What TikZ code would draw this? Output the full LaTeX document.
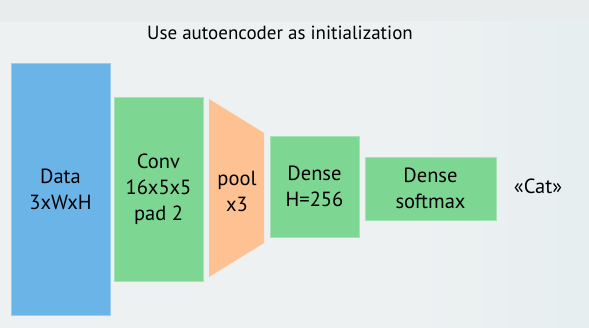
\documentclass[tikz,border=0pt]{standalone}
\usepackage{fontspec}
\setmainfont{PT Sans}
\definecolor{bgcol}{HTML}{EEF1F2}
\definecolor{bandcol}{HTML}{E8ECED}
\definecolor{sidecol}{HTML}{E6EEF0}
\definecolor{datablue}{HTML}{6AB4E8}
\definecolor{layergreen}{HTML}{7DD691}
\definecolor{poolorange}{HTML}{FDC192}
\definecolor{edgeblue}{HTML}{9CCDF0}
\definecolor{edgegreen}{HTML}{A6E3B4}
\tikzset{
  layer/.style={draw=edgegreen, line width=0.6pt, fill=layergreen, inner sep=0pt, align=center,
    font=\fontsize{20.5}{26}\selectfont},
  datablock/.style={layer, draw=edgeblue, fill=datablue},
  label/.style={inner sep=0pt, align=center, font=\fontsize{20.5}{26}\selectfont},
}
\begin{document}
\begin{tikzpicture}[x=1pt,y=1pt]
  % canvas
  \useasboundingbox (0,0) rectangle (589,328);
  \fill[bgcol] (0,0) rectangle (589,328);
  \fill[bandcol] (0,306) rectangle (589,328);
  \shade[left color=bgcol, right color=sidecol] (400,0) rectangle (589,306);

  % title
  \node[font=\fontsize{19}{24}\selectfont, inner sep=0pt] (title) at (280,295) {Use autoencoder as initialization};

  % input block
  \node[datablock, minimum width=99pt, minimum height=252pt] (data) at (60.5,139) {Data\\3xWxH};

  % convolution layer
  \node[layer, minimum width=89pt, minimum height=184pt] (conv) at (158.5,139) {Conv\\16x5x5\\pad 2};

  % pooling stage (trapezoid narrowing to the right)
  \coordinate (pbl) at (209,51);
  \coordinate (ptl) at (209,229);
  \coordinate (ptr) at (264,195);
  \coordinate (pbr) at (264,85);
  \fill[poolorange] (pbl) -- (ptl) -- (ptr) -- (pbr) -- cycle;
  \node[label] (pool) at (237,137) {pool\\x3};

  % fully connected layers
  \node[layer, minimum width=89pt, minimum height=101pt] (dense1) at (314.5,141.5) {Dense\\H=256};
  \node[layer, minimum width=131pt, minimum height=63pt] (dense2) at (430.5,139.5) {Dense\\softmax};

  % predicted class
  \node[label] (cat) at (538,142) {«Cat»};
\end{tikzpicture}
\end{document}
